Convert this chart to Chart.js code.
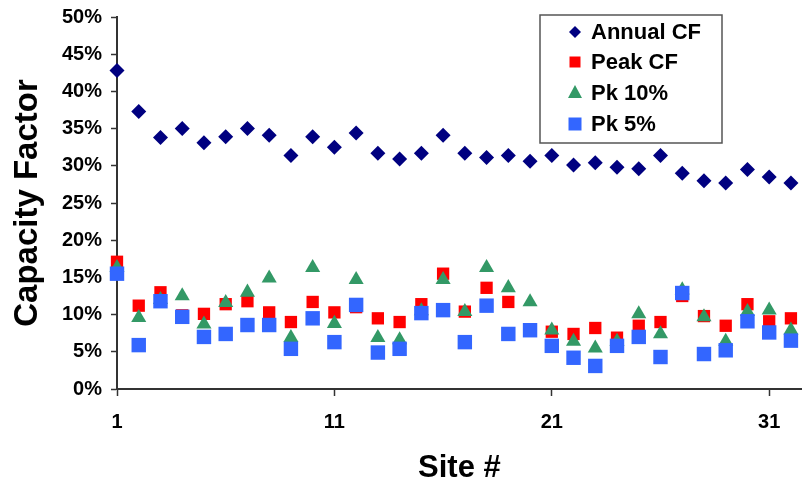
<!DOCTYPE html>
<html>
<head>
<meta charset="utf-8">
<script src="https://cdn.jsdelivr.net/npm/chart.js@4/dist/chart.umd.min.js"></script>
<style>
  html, body { margin: 0; padding: 0; background: #fff; }
  #wrap { width: 812px; height: 487px; }
</style>
</head>
<body>
<div id="wrap"><canvas id="c" width="812" height="487"></canvas></div>
<script>
const sites = [1,2,3,4,5,6,7,8,9,10,11,12,13,14,15,16,17,18,19,20,21,22,23,24,25,26,27,28,29,30,31,32];
const annualCF = [42.8,37.3,33.8,35.0,33.1,33.9,35.0,34.1,31.4,33.9,32.5,34.4,31.7,30.9,31.7,34.1,31.7,31.1,31.4,30.6,31.4,30.1,30.4,29.8,29.6,31.4,29.0,28.0,27.7,29.5,28.5,27.7];
const peakCF   = [17.1,11.2,13.0,9.9,10.1,11.4,11.8,10.3,9.0,11.7,10.3,11.0,9.5,9.0,11.4,15.5,10.4,13.6,11.7,8.0,7.7,7.4,8.2,6.9,8.5,9.0,12.5,9.8,8.5,11.4,9.1,9.5];
const pk10     = [16.3,9.6,12.0,12.5,8.7,11.6,13.0,14.9,6.9,16.3,8.8,14.7,6.9,6.6,10.5,14.7,10.4,16.3,13.6,11.7,7.9,6.4,5.5,6.4,10.1,7.4,13.3,9.7,6.4,10.4,10.6,7.9];
const pk5      = [15.5,5.9,11.8,9.7,7.0,7.4,8.6,8.6,5.4,9.5,6.3,11.3,4.9,5.4,10.2,10.6,6.3,11.2,7.4,7.9,5.8,4.2,3.1,5.8,7.0,4.3,12.9,4.7,5.2,9.1,7.6,6.5];
const seriesNames = ['Annual CF','Peak CF','Pk 10%','Pk 5%'];
const xTicks = [1, 11, 21, 31];
const yTicks = [0,5,10,15,20,25,30,35,40,45,50];

const toPts = arr => sites.map((s, i) => ({x: s, y: arr[i]}));
const FONT = "'Liberation Sans', Arial, sans-serif";

const legendPlugin = {
  id: 'boxLegend',
  afterDraw(chart) {
    const ctx = chart.ctx;
    const x0 = 540, y0 = 15, w = 182, h = 128;
    ctx.save();
    ctx.fillStyle = '#fff';
    ctx.fillRect(x0, y0, w, h);
    ctx.strokeStyle = '#555';
    ctx.lineWidth = 1.5;
    ctx.strokeRect(x0, y0, w, h);
    const rows = [32, 62, 93, 124];
    chart.data.datasets.forEach((ds, i) => {
      const cx = 575, cy = rows[i];
      ctx.fillStyle = ds.backgroundColor;
      ctx.beginPath();
      if (ds.pointStyle === 'rectRot') {
        const r = 6;
        ctx.moveTo(cx - r, cy); ctx.lineTo(cx, cy - r); ctx.lineTo(cx + r, cy); ctx.lineTo(cx, cy + r);
      } else if (ds.pointStyle === 'triangle') {
        ctx.moveTo(cx, cy - 8); ctx.lineTo(cx + 7, cy + 5); ctx.lineTo(cx - 7, cy + 5);
      } else {
        const s = i === 1 ? 11 : 13;
        ctx.rect(cx - s / 2, cy - s / 2, s, s);
      }
      ctx.closePath();
      ctx.fill();
      ctx.fillStyle = '#000';
      ctx.font = "bold 22px " + FONT;
      ctx.textBaseline = 'middle';
      ctx.textAlign = 'left';
      ctx.fillText(ds.label, 591, cy + 1);
    });
    ctx.restore();
  }
};

new Chart(document.getElementById('c'), {
  type: 'scatter',
  data: {
    datasets: [
      { label: seriesNames[0], data: toPts(annualCF), pointStyle: 'rectRot', pointRadius: 7.5, pointHoverRadius: 7.5,
        backgroundColor: '#000080', borderColor: '#000080', borderWidth: 0, order: 4, clip: false },
      { label: seriesNames[1], data: toPts(peakCF), pointStyle: 'rect', pointRadius: 8.7, pointHoverRadius: 8.7,
        backgroundColor: '#FF0000', borderColor: '#FF0000', borderWidth: 0, order: 3, clip: false },
      { label: seriesNames[2], data: toPts(pk10), pointStyle: 'triangle', pointRadius: 8.7, pointHoverRadius: 8.7,
        backgroundColor: '#339966', borderColor: '#339966', borderWidth: 0, order: 2, clip: false },
      { label: seriesNames[3], data: toPts(pk5), pointStyle: 'rect', pointRadius: 10.2, pointHoverRadius: 10.2,
        backgroundColor: '#3366FF', borderColor: '#3366FF', borderWidth: 0, order: 1, clip: false }
    ]
  },
  options: {
    responsive: false,
    animation: false,
    devicePixelRatio: 1,
    layout: { padding: { top: 17, right: 0, left: 0, bottom: 0 } },
    plugins: { legend: { display: false }, tooltip: { enabled: false } },
    scales: {
      x: {
        type: 'linear', min: 1, max: 32.5,
        afterBuildTicks: s => { s.ticks = xTicks.map(v => ({value: v})); },
        afterFit: s => { s.height = 98; s.paddingLeft = 0; s.paddingRight = 0; },
        grid: { drawOnChartArea: false, drawTicks: true, tickLength: 7, color: '#333', tickWidth: 1.5 },
        border: { display: true, color: '#333', width: 2 },
        ticks: { color: '#000', font: { family: FONT, size: 20, weight: 'bold' }, padding: 14, maxRotation: 0, autoSkip: false },
        title: { display: true, text: 'Site #', color: '#000', font: { family: FONT, size: 31, weight: 'bold', lineHeight: 1.1 }, padding: { top: 0, bottom: 1 } }
      },
      y: {
        type: 'linear', min: 0, max: 50,
        afterBuildTicks: s => { s.ticks = yTicks.map(v => ({value: v})); },
        afterFit: s => { s.width = 117; s.paddingTop = 0; s.paddingBottom = 0; },
        grid: { drawOnChartArea: false, drawTicks: true, tickLength: 6, color: '#333', tickWidth: 1.5 },
        border: { display: true, color: '#333', width: 2 },
        ticks: { color: '#000', font: { family: FONT, size: 20, weight: 'bold' }, padding: 9, callback: v => v + '%' },
        title: { display: true, text: 'Capacity Factor', color: '#000', font: { family: FONT, size: 33, weight: 'bold', lineHeight: 1.1 }, padding: { top: 10, bottom: 0 } }
      }
    }
  },
  plugins: [legendPlugin]
});
</script>
</body>
</html>
